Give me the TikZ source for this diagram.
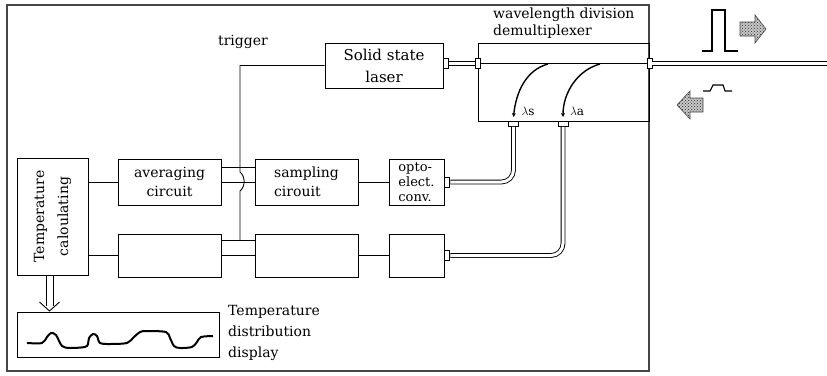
\documentclass[tikz,border=0pt]{standalone}
\usepackage{fontspec}
\setmainfont{DejaVu Serif}
\usetikzlibrary{arrows.meta,patterns}
\begin{document}
\begin{tikzpicture}[x=1pt,y=-1pt,
  box/.style={draw, line width=0.9pt, inner sep=0pt, font=\fontsize{14}{19}\selectfont, align=center},
  wire/.style={line width=0.9pt},
  fiber/.style={double=white, double distance=3pt, line width=0.9pt},
  hferrule/.style={draw, fill=white, line width=0.8pt, minimum width=5pt, minimum height=10pt, inner sep=0pt},
  vferrule/.style={draw, fill=white, line width=0.8pt, minimum width=10pt, minimum height=5pt, inner sep=0pt},
  lbl/.style={font=\fontsize{14}{17}\selectfont, inner sep=0pt},
  demux/.style={line width=1.4pt, -{Stealth[length=4pt,width=4pt]}},
  flow/.style={fill=gray!45, draw=gray!55!black, line width=0.6pt},
  pulse/.style={line width=1.1pt}]
\useasboundingbox (0,0) rectangle (827,375);

% outer frame
\draw[line width=2.5pt, draw=gray!55!black] (7,5) rectangle (649,371);

% boxes
\node[box, minimum width=118pt, minimum height=45pt, font=\fontsize{15}{22}\selectfont] (laser) at (384,65.5) {Solid state\\laser};
\node[box, minimum width=171pt, minimum height=78pt] (wdm) at (563.5,82) {};
\node[lbl, anchor=west, align=left] (wdmtxt) at (493,23) {wavelength division\\demultiplexer};
\node[box, minimum width=71pt, minimum height=117pt] (tc) at (52.5,216.5) {};
\node[lbl, rotate=90, align=center, font=\fontsize{14}{24}\selectfont] (tctxt) at (tc.center) {Temperature\\caloulating};
\node[box, minimum width=103pt, minimum height=46pt] (avg) at (169.5,182) {averaging\\circuit};
\node[box, minimum width=103pt, minimum height=46pt, align=left] (samp) at (306.5,182) {sampling\\cirouit};
\node[box, minimum width=55pt, minimum height=46pt, align=left, font=\fontsize{13}{15}\selectfont] (opto) at (416.5,182) {opto-\\elect.\\conv.};
\node[box, minimum width=103pt, minimum height=43pt] (b2l) at (169.5,255.5) {};
\node[box, minimum width=103pt, minimum height=43pt] (b2m) at (306.5,255.5) {};
\node[box, minimum width=55pt, minimum height=43pt] (b2r) at (416.5,255.5) {};
\node[box, minimum width=202pt, minimum height=45pt] (disp) at (118,334.5) {};
\node[lbl, anchor=west, align=left, font=\fontsize{14}{21}\selectfont] (disptxt) at (228,333) {Temperature\\distribution\\display};
\node[lbl] (trig) at (243,42) {trigger};

% electrical wires
\draw[wire] (avg.west -| tc.east) -- (avg.west);
\draw[wire] (b2l.west -| tc.east) -- (b2l.west);
\draw[wire] ([yshift=15pt]avg.east) -- ([yshift=15pt]avg.east -| samp.west);
\draw[wire] (avg.east) -- (samp.west);
\draw[wire] ([yshift=15.5pt]b2l.east) -- ([yshift=15.5pt]b2l.east -| b2m.west);
\draw[wire] (b2l.east) -- (b2m.west);
\draw[wire] (samp.east) -- (opto.west);
\draw[wire] (b2m.east) -- (b2r.west);
\coordinate (tj) at (240,240);
\draw[wire] (laser.west) -| (240,172) .. controls (245,176) and (246,186) .. (240,191) -- (tj);

% fibers
\node[hferrule, anchor=west] (fl) at ([yshift=2pt]laser.east) {};
\node[hferrule] (fw) at (wdm.west |- fl) {};
\node[hferrule] (fo) at (wdm.east |- fl) {};
\coordinate (fend) at (827,63.5);
\draw[fiber] (fl.east) -- (fw.west);
\draw[line width=1.4pt] (fw.east) -- (fo.west);
\draw[fiber] (fo.east) -- (fend);

\node[hferrule, anchor=west] (f2) at (opto.east) {};
\node[vferrule, anchor=north] (f3) at (513.5,121) {};
\node[hferrule, anchor=west] (f4) at (b2r.east) {};
\node[vferrule, anchor=north] (f5) at (563,121) {};
\draw[fiber, rounded corners=12pt] (f2.east) -| (f3.south);
\draw[fiber, rounded corners=12pt] (f4.east) -| (f5.south);

% demultiplexing curves
\draw[demux] (548,64) .. controls (526,70) and (516,92) .. (f3.north |- 0,117);
\node[lbl, font=\fontsize{12}{14}\selectfont] (ls) at (528,111) {$\lambda$s};
\draw[demux] (600,64) .. controls (578,70) and (563,92) .. (f5.north |- 0,117);
\node[lbl, font=\fontsize{12}{14}\selectfont] (la) at (577,111) {$\lambda$a};

% output arrow to display
\coordinate (aTop) at (49.5,275);
\coordinate (aTip) at (49.5,311);
\draw[wire] ([xshift=-3.5pt]aTop) -- ([xshift=-3.5pt,yshift=5pt]aTip);
\draw[wire] ([xshift=3.5pt]aTop) -- ([xshift=3.5pt,yshift=5pt]aTip);
\draw[wire] ([xshift=-10pt,yshift=9pt]aTip) -- (aTip) -- ([xshift=10pt,yshift=9pt]aTip);

% waveform
\draw[line width=2pt, line join=round] plot[smooth, tension=0.5] coordinates {(27,343) (42,343) (47,337) (51,333) (56,335) (62,346) (70,348) (85,347) (88,344) (89,338) (93,334) (97,336) (100,343) (110,344) (127,343) (134,337) (140,332) (147,331) (166,332) (170,338) (174,346) (180,348) (192,347) (197,342) (201,337) (213,336)};

% pulses and flow arrows
\draw[pulse] (702,51) -- (712,51) -- (712,10) -- (725,10) -- (725,51) -- (738,51);
\draw[flow] (740,22) -- (755,22) -- (755,15) -- (766,29) -- (755,43) -- (755,36) -- (740,36) -- cycle;
\fill[pattern=crosshatch dots, pattern color=gray!40!black] (740,22) -- (755,22) -- (755,15) -- (766,29) -- (755,43) -- (755,36) -- (740,36) -- cycle;
\draw[pulse] (703,91) -- (710,91) -- (713,85) -- (723,85) -- (725,91) -- (732,91);
\draw[flow] (703,98) -- (690,98) -- (690,91) -- (677,105) -- (690,119) -- (690,112) -- (703,112) -- cycle;
\fill[pattern=crosshatch dots, pattern color=gray!40!black] (703,98) -- (690,98) -- (690,91) -- (677,105) -- (690,119) -- (690,112) -- (703,112) -- cycle;
\end{tikzpicture}
\end{document}
